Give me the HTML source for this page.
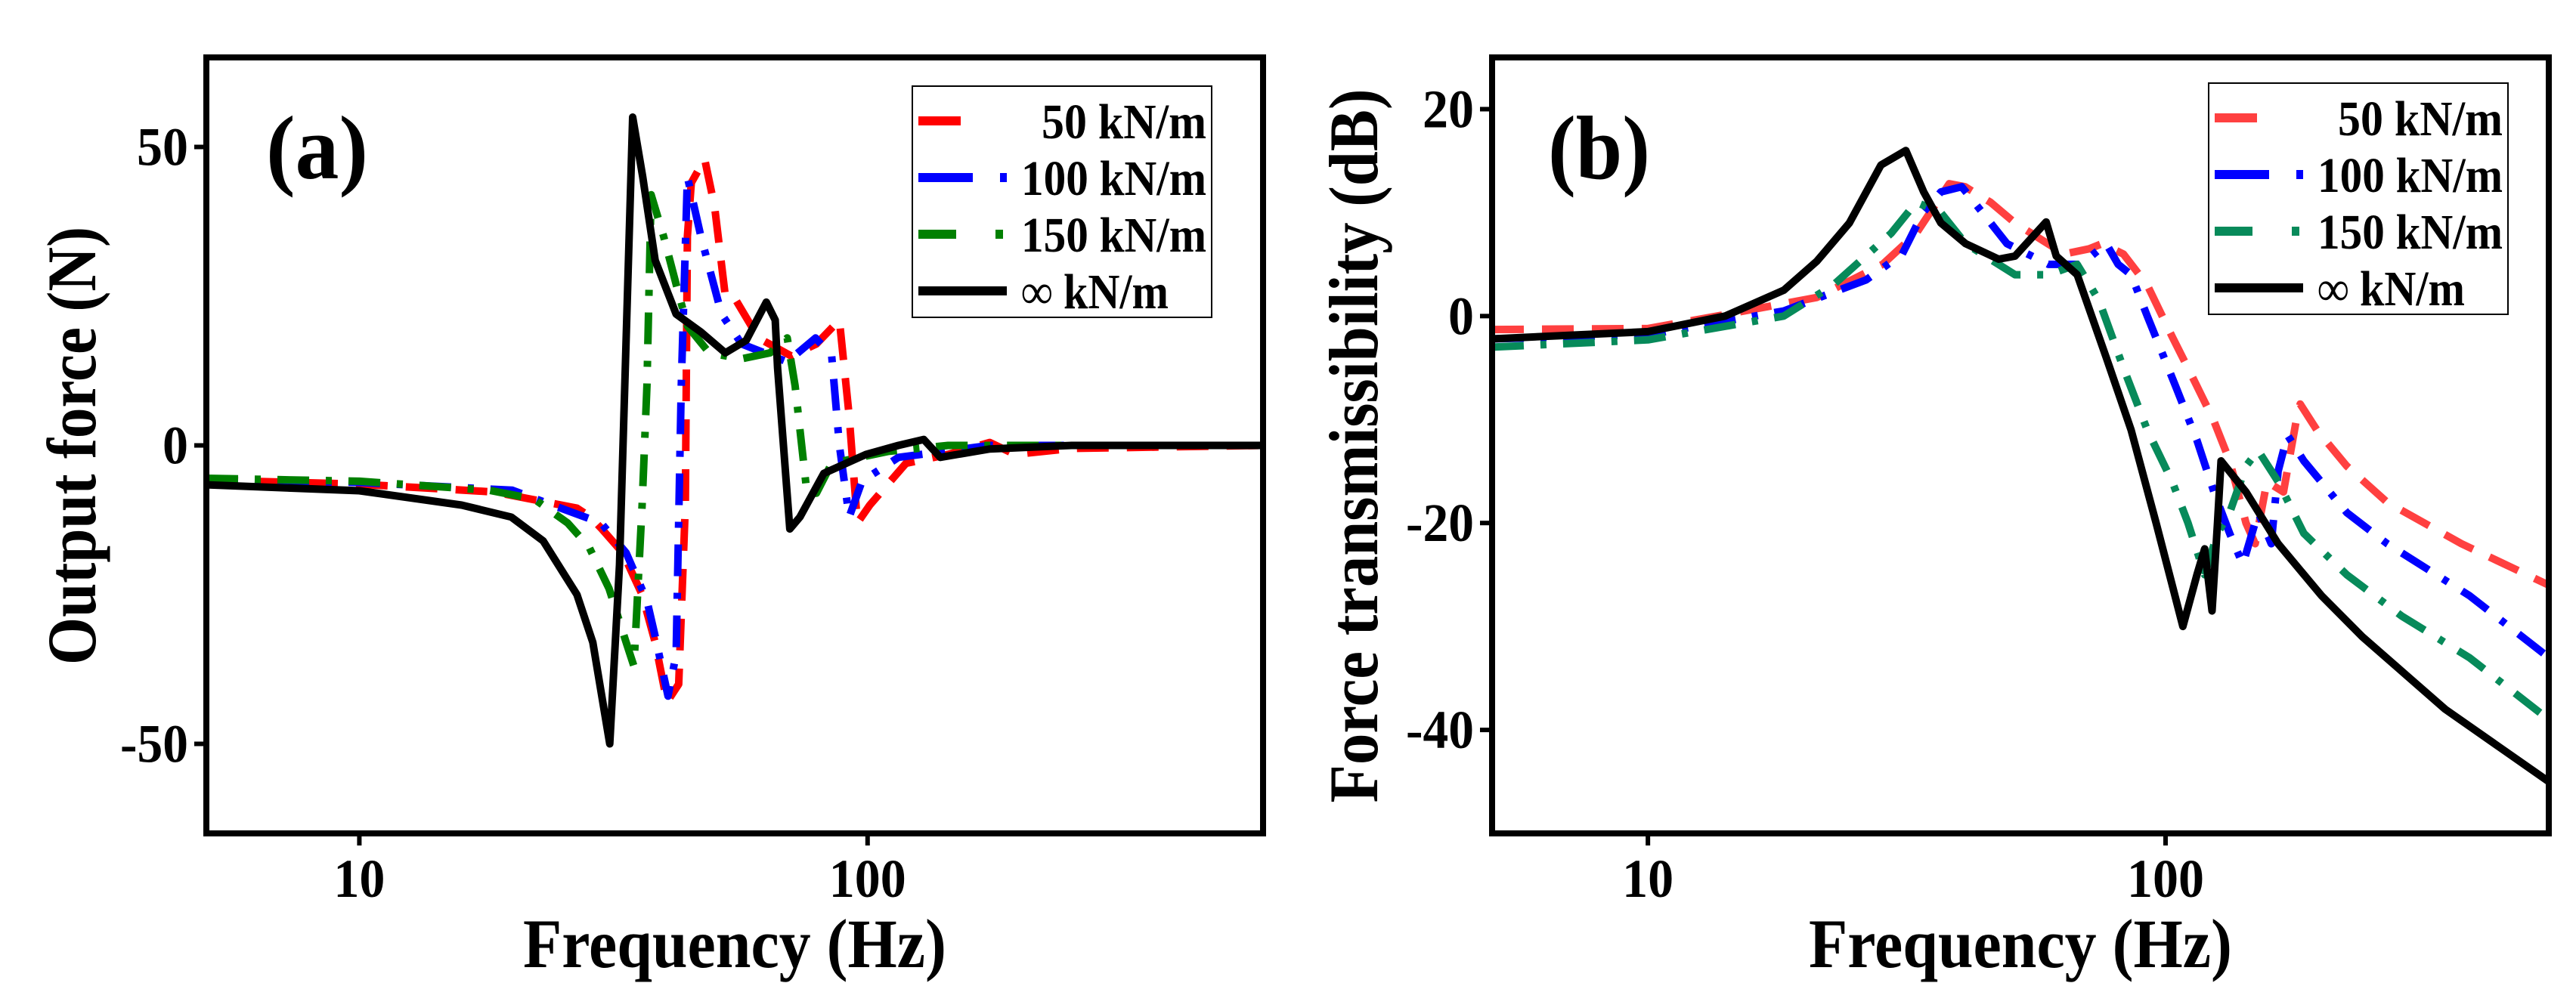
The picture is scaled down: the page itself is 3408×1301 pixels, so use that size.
<!DOCTYPE html>
<html><head><meta charset="utf-8"><style>
html,body{margin:0;padding:0;background:#fff;}
svg{display:block;font-family:"Liberation Serif",serif;font-weight:bold;}
</style></head><body>
<svg id="chart" width="3408" height="1301" viewBox="0 0 3408 1301" xmlns="http://www.w3.org/2000/svg"></svg>
<script>
// ---- Panel (a) data: Output force (N) ----
const aF50 = [5,10,18.4,26.8,28.5,30,33,36,38.2,40.3,42.5,43.8,44.2,45,47.8,50,52.5,54.5,61,70.7,79.3,88,92,95.5,101,119,144,174,195,252,600];
const aV50 = [-5.8,-6.5,-7.8,-10.5,-12,-14,-18,-25,-33,-43,-40,-10,35,44,48,40,25,25,18,15,17,21,5,-13,-10,-3,-1.5,0.5,-1.5,-0.5,0];
const aF100 = [5,10,20,29.9,33.5,36.8,38.2,40.5,42,43,44.2,47,51.6,56.5,69.5,79,85,88,92,97.5,115,174,600];
const aV100 = [-5.8,-6.2,-7.5,-13,-18,-26,-32,-42,-35,10,45,35,22,17,14,18,15,0,-12,-6,-2,0,0];
const aF150 = [5,10,18,22.1,25.7,28.3,31,33.5,34.7,36,36.8,37.5,39.7,42,44.2,48.8,56.5,64.3,69.5,72,76,79.3,85,110,144,600];
const aV150 = [-5.5,-6,-7.5,-9,-13,-17,-24,-33,-37,-10,10,42,35,27,20,15.5,14.5,15.5,18,10,-8,-8,-3,-1,0,0];
const aFinf = [5,10,15.9,19.9,23,26.8,28.8,31.1,32.5,34.5,36.1,38.2,42,47,52.5,57.7,63.2,65.8,66.5,70.3,73.6,82,99.3,115,129,139,174,252,600];
const aVinf = [-6.6,-7.6,-10,-12,-16,-25,-33,-50,-20,55,45,31,22,19,15.5,17.6,24,21,13,-14,-12,-4.7,-1.5,0,1,-2,-0.6,0,0];

// ---- Panel (b) data: Force transmissibility (dB) ----
const bF50 = [5,10,13.6,21.2,28.4,33,38.2,41,45.9,51.2,63.7,71.2,75.4,82.9,92.2,103,113,123.7,133,143,149,157,169,179,182,196,224,268,373,550];
const bV50 = [-1.3,-1.2,0,1.8,5,8,12.8,12.5,11,9,6,6.5,7,6,3,-2,-6,-10,-14,-20,-22,-16,-17,-10,-8.5,-11,-14.5,-18,-22,-26];
const bF100 = [5,10,18.3,26.4,31,34,36.8,40.4,44.3,49.4,59.4,68.7,76.8,81,85.8,92.2,105,115,124,133,141,151,160,165,172,185,224,268,386,550];
const bV100 = [-2.2,-1.8,0.5,3.5,6,10,12,12.5,10,7,5,5,7,5,4,0,-7,-12,-17,-21,-24,-19,-22,-15,-11.5,-14,-19,-22,-27,-33];
const bF150 = [5,10,18.3,22.8,29.5,33,36.8,41.1,51.2,59.4,67.5,74.4,82.9,92.2,103,110.5,119,126,133,143,151,165,185,224,286,386,550];
const bV150 = [-3,-2.3,0,3,8,11,10,7,4,4,5,1.5,-5,-11,-16,-20,-25,-21,-19,-14.5,-13,-16,-21,-25,-29,-33,-39];
const bFinf = [5,10,14.1,18.3,21.2,24.5,28.2,31.5,34.1,36.8,41.1,47.6,51.2,58.8,61.5,67.5,76.8,85.8,95.9,103,108,115,119,123,126,128,143,165,200,240,347,550];
const bVinf = [-2.2,-1.5,0,2.5,5.3,9,14.6,16,12,9,7,5.5,5.8,9.1,5.8,4,-4,-11,-20,-26,-30,-25,-22.5,-28.5,-20,-14,-17,-22,-27,-31,-38,-45];

const legendLabels = ["50 kN/m","100 kN/m","150 kN/m","\u221E kN/m"];
const aYTicks = [50,0,-50];
const bYTicks = [20,0,-20,-40];
const xTicks = [10,100];

const NS = "http://www.w3.org/2000/svg";
const svg = document.getElementById('chart');
function mk(tag, attrs, parent){
  const e = document.createElementNS(NS, tag);
  for (const k in attrs) e.setAttribute(k, attrs[k]);
  (parent||svg).appendChild(e);
  return e;
}
function tl(s){ // condensed text length for ticks
  let w=0; for (const c of String(s)) w += (c==='-')?22:34; return w;
}

function panel(cfg){
  const g = mk('g', {});
  
  
  const L=cfg.x0, R=cfg.x1, T=cfg.y0, B=cfg.y1;
  const lx0=Math.log10(cfg.fmin), lx1=Math.log10(cfg.fmax);
  const xs = f => L + (Math.log10(f)-lx0)/(lx1-lx0)*(R-L);
  const ys = v => B - (v-cfg.vmin)/(cfg.vmax-cfg.vmin)*(B-T);
  const clip = mk('clipPath', {id: cfg.name+'-clip'}, g);
  mk('rect', {x:L, y:T, width:R-L, height:B-T}, clip);
  const sg = mk('g', {'clip-path':'url(#'+cfg.name+'-clip)'}, g);
  cfg.series.forEach(s=>{
    let d='';
    s.f.forEach((f,i)=>{ d += (i?'L':'M') + xs(f).toFixed(1) + ',' + ys(s.v[i]).toFixed(1); });
    const p = mk('path', {d:d, fill:'none', stroke:s.color, 'stroke-width':10, 'stroke-linejoin':'round', 'stroke-dasharray':s.dash||'none'}, sg);
    
    
  });
  const fr = mk('rect', {x:L, y:T, width:R-L, height:B-T, fill:'none', stroke:'#000', 'stroke-width':8}, g);
  
  
  cfg.yticks.forEach(v=>{
    const y = ys(v);
    mk('line', {x1:L-16, x2:L, y1:y, y2:y, stroke:'#000', 'stroke-width':6}, g);
    const t = mk('text', {x:L-24, y:y+24, 'font-size':72, 'text-anchor':'end', textLength:tl(v), lengthAdjust:'spacingAndGlyphs'}, g);
    t.textContent = v;
    
    
  });
  xTicks.forEach(f=>{
    const x = xs(f);
    mk('line', {x1:x, x2:x, y1:B, y2:B+16, stroke:'#000', 'stroke-width':6}, g);
    const t = mk('text', {x:x, y:B+84, 'font-size':72, 'text-anchor':'middle', textLength:tl(f), lengthAdjust:'spacingAndGlyphs'}, g);
    t.textContent = f;
    
    
  });
  const xt = mk('text', {x:(L+R)/2, y:1280, 'font-size':92, 'text-anchor':'middle', textLength:560, lengthAdjust:'spacingAndGlyphs'}, g);
  xt.textContent = 'Frequency (Hz)';
  
  
  const yt = mk('text', {x:0, y:0, 'font-size':92, 'text-anchor':'middle', textLength:cfg.ytLen, lengthAdjust:'spacingAndGlyphs', transform:'translate('+cfg.ytX+','+cfg.ytY+') rotate(-90)'}, g);
  yt.textContent = cfg.ytitle;
  
  
  const pl = mk('text', {x:cfg.plX, y:236, 'font-size':120, textLength:135, lengthAdjust:'spacingAndGlyphs'}, g);
  pl.textContent = cfg.label;
  
  
  const lg = mk('g', {}, g);
  
  
  mk('rect', {x:cfg.lgX, y:cfg.lgY, width:396, height:306, fill:'#fff', stroke:'#000', 'stroke-width':2}, lg);
  const lens = [218,245,245,195];
  cfg.series.forEach((s,i)=>{
    const y = cfg.lgY + 46 + i*75;
    const e = mk('g', {}, lg);
    
    
    mk('line', {x1:cfg.lgX+8, x2:cfg.lgX+125, y1:y, y2:y, stroke:s.color, 'stroke-width':12, 'stroke-dasharray':s.ldash||'none'}, e);
    const t = mk('text', {x:cfg.lgX+144 + (i===0?27:0), y:y+23, 'font-size':66, textLength:lens[i], lengthAdjust:'spacingAndGlyphs'}, e);
    t.textContent = legendLabels[i];
  });
}

panel({name:'panel-a-output-force', x0:273, x1:1671, y0:76, y1:1103, fmin:5, fmax:600, vmin:-65, vmax:65,
  yticks:aYTicks, ytitle:'Output force (N)', ytX:126, ytY:590, ytLen:580, label:'(a)', plX:352,
  lgX:1207, lgY:114,
  series:[
    {id:'line-50kN', f:aF50, v:aV50, color:'#ff0000', dash:'42,24', ldash:'56,200'},
    {id:'line-100kN', f:aF100, v:aV100, color:'#0000ff', dash:'42,22,8,22', ldash:'72,36,10,200'},
    {id:'line-150kN', f:aF150, v:aV150, color:'#008000', dash:'42,22,8,22', ldash:'50,52,10,200'},
    {id:'line-inf', f:aFinf, v:aVinf, color:'#000000', dash:'none', ldash:'none'}
  ]});
panel({name:'panel-b-transmissibility', x0:1974, x1:3372, y0:76, y1:1103, fmin:5, fmax:550, vmin:-50, vmax:25,
  yticks:bYTicks, ytitle:'Force transmissibility (dB)', ytX:1822, ytY:590, ytLen:945, label:'(b)', plX:2048,
  lgX:2922, lgY:110,
  series:[
    {id:'line-50kN', f:bF50, v:bV50, color:'#ff4040', dash:'42,24', ldash:'56,200'},
    {id:'line-100kN', f:bF100, v:bV100, color:'#0000ff', dash:'42,22,8,22', ldash:'72,36,10,200'},
    {id:'line-150kN', f:bF150, v:bV150, color:'#078a5a', dash:'42,22,8,22', ldash:'50,52,10,200'},
    {id:'line-inf', f:bFinf, v:bVinf, color:'#000000', dash:'none', ldash:'none'}
  ]});
</script>
</body></html>
